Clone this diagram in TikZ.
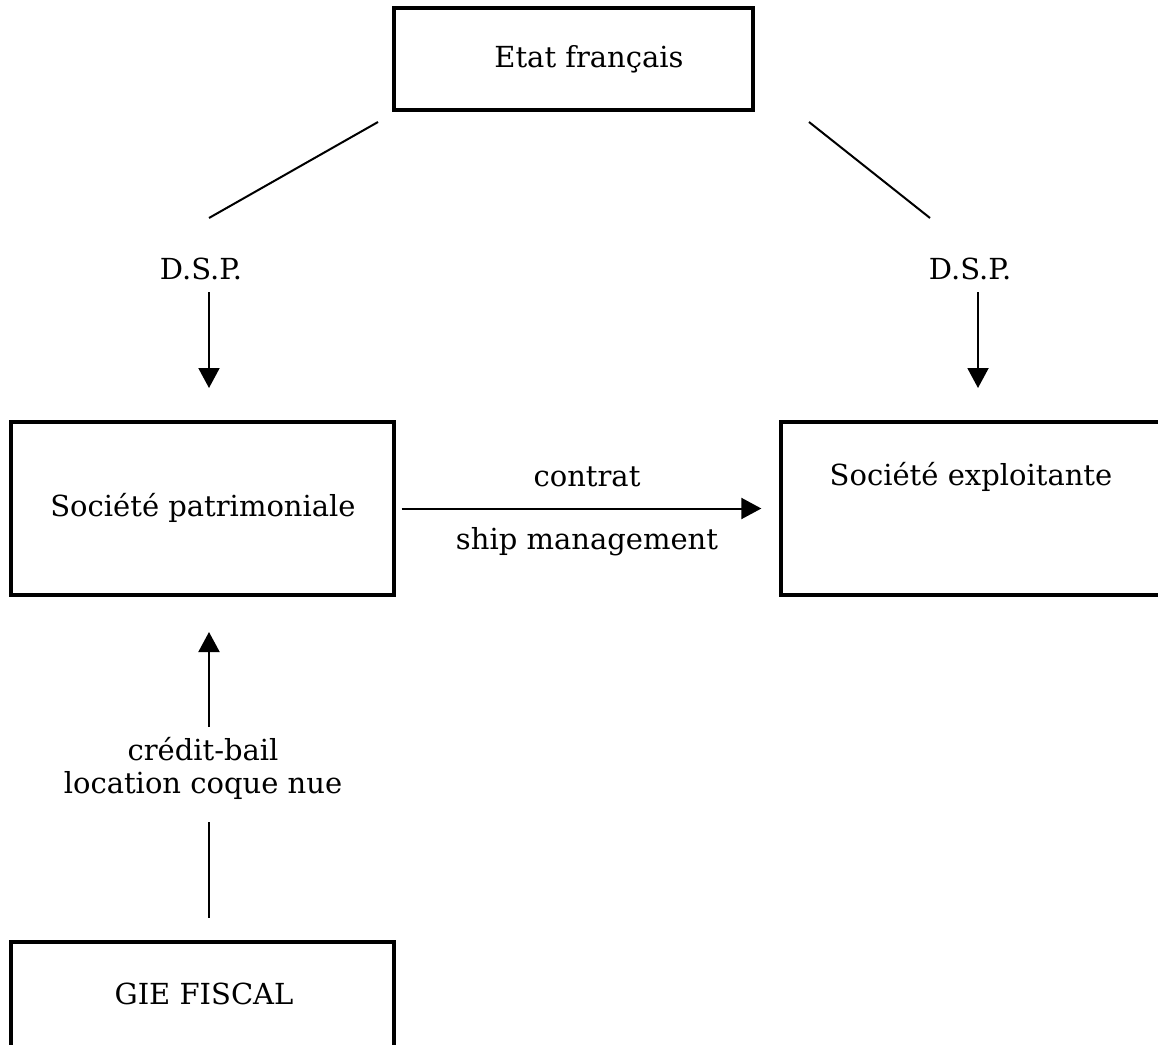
\documentclass[tikz,border=0pt]{standalone}
\usepackage{fontspec}
\setmainfont{DejaVu Serif}
\usetikzlibrary{arrows.meta}
\begin{document}
\begin{tikzpicture}[x=1pt,y=-1pt,
  box/.style={draw, line width=3.3pt, inner sep=0pt, minimum width=383pt},
  txt/.style={inner sep=0pt, font=\fontsize{29}{33}\selectfont, align=center},
  link/.style={line width=2pt},
  arr/.style={link, -{Triangle[length=20pt,width=21pt]}}]
\useasboundingbox (0,0) rectangle (1158,1044);
\fill[white] (0,0) rectangle (1158,1044);
\clip (0,0) rectangle (1158,1044);

% boxes
\node[box, minimum width=359pt, minimum height=102pt] (etat) at (573.5,59) {};
\node[txt] (etatt) at (589,59) {Etat français};
\node[box, minimum height=173pt] (patr) at (202.5,508.5) {};
\node[txt] (patrt) at (203,508) {Société patrimoniale};
\node[box, minimum height=173pt] (expl) at (972.5,508.5) {};
\node[txt] (explt) at (971,477) {Société exploitante};
\node[box, minimum height=110pt] (gie) at (202.5,997) {};
\node[txt] (giet) at (204,994) {GIE FISCAL};

% labels
\node[txt] (dspl) at (201,269) {D.S.P.};
\node[txt] (dspr) at (970,269) {D.S.P.};
\node[txt] (contrat) at (587,477) {contrat};
\node[txt] (ship) at (587,542) {ship management};
\node[txt] (credit) at (203,768) {crédit-bail\\location coque nue};

% connector end points
\coordinate (el) at (378,122);
\coordinate (dl) at (209,218);
\coordinate (er) at (809,122);
\coordinate (dr) at (930,218);
\coordinate (al0) at (209,292);
\coordinate (al1) at (209,388);
\coordinate (ar0) at (978,292);
\coordinate (ar1) at (978,388);
\coordinate (cu0) at (209,727);
\coordinate (cu1) at (209,632);
\coordinate (cd0) at (209,918);
\coordinate (cd1) at (209,822);

\draw[link] (el) -- (dl);
\draw[link] (er) -- (dr);
\draw[arr] (al0) -- (al1);
\draw[arr] (ar0) -- (ar1);
\draw[arr] ([xshift=6pt]patr.east) -- ([xshift=-18pt]expl.west);
\draw[arr] (cu0) -- (cu1);
\draw[link] (cd1) -- (cd0);
\end{tikzpicture}
\end{document}
